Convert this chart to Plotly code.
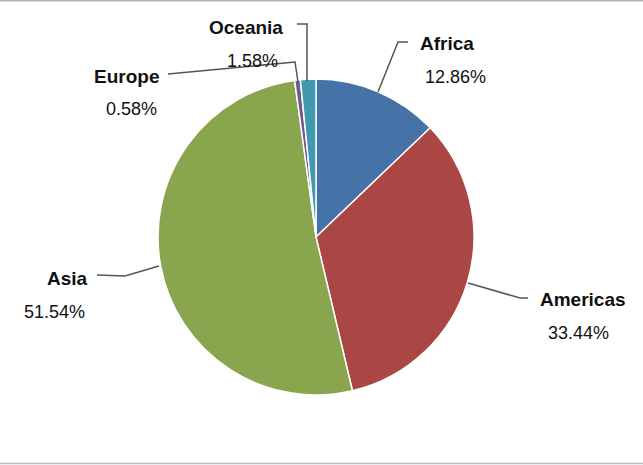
import plotly.graph_objects as go

regions = ["Africa", "Americas", "Asia", "Europe", "Oceania"]
shares = [12.86, 33.44, 51.54, 0.58, 1.58]
colors = ["#4572A7", "#AA4643", "#89A54E", "#71588F", "#4198AF"]

W, H = 643, 465


def px(x):
    return x / W


def py(y):
    return 1 - y / H


fig = go.Figure(go.Pie(
    labels=regions,
    values=shares,
    sort=False,
    direction="clockwise",
    rotation=0,
    marker=dict(colors=colors, line=dict(color="white", width=1.5)),
    textinfo="none",
    hoverinfo="label+percent",
    showlegend=False,
    domain=dict(x=[px(157), px(475)], y=[py(395), py(79)]),
))

# label positions (pixels): name centre, percent centre
label_pos = {
    "Africa": ((447, 43), (455, 77)),
    "Americas": ((583, 299), (578, 333)),
    "Asia": ((67, 278), (54, 312)),
    "Europe": ((126, 76), (131, 109)),
    "Oceania": ((246, 27), (252, 61)),
}

annotations = []
for name, val in zip(regions, shares):
    (nx, ny), (vx, vy) = label_pos[name]
    annotations.append(dict(
        x=px(nx), y=py(ny), xref="paper", yref="paper", showarrow=False,
        text=f"<b>{name}</b>", font=dict(family="Liberation Sans, Arial", size=19, color="#111"),
        xanchor="center", yanchor="middle"))
    annotations.append(dict(
        x=px(vx), y=py(vy), xref="paper", yref="paper", showarrow=False,
        text=f"{val:.2f}%", font=dict(family="Liberation Sans, Arial", size=18, color="#111"),
        xanchor="center", yanchor="middle"))

# leader lines (pixel polylines)
leaders = [
    [(297, 24), (307, 24), (307, 81)],           # Oceania
    [(168, 74), (295, 62), (298, 82)],           # Europe
    [(408, 42), (398, 42), (378, 92)],           # Africa
    [(97, 275), (125, 276), (159, 266)],         # Asia
    [(468, 283), (520, 298), (528, 298)],        # Americas
]
shapes = []
for pts in leaders:
    path = "M " + " L ".join(f"{px(x)},{py(y)}" for x, y in pts)
    shapes.append(dict(type="path", xref="paper", yref="paper", path=path,
                       line=dict(color="#555555", width=1.5)))

# frame lines
shapes.append(dict(type="line", xref="paper", yref="paper", x0=0, x1=1, y0=py(0.75), y1=py(0.75),
                   line=dict(color="#b0b4b8", width=1.5)))
shapes.append(dict(type="line", xref="paper", yref="paper", x0=0, x1=1, y0=py(463.5), y1=py(463.5),
                   line=dict(color="#b8bccc", width=1.5)))

fig.update_layout(
    width=W, height=H,
    margin=dict(l=0, r=0, t=0, b=0),
    paper_bgcolor="white",
    plot_bgcolor="white",
    annotations=annotations,
    shapes=shapes,
)

fig.write_html("out.html", config={"displayModeBar": False},
               post_script="document.body.style.margin='0';document.body.style.overflow='hidden';")
